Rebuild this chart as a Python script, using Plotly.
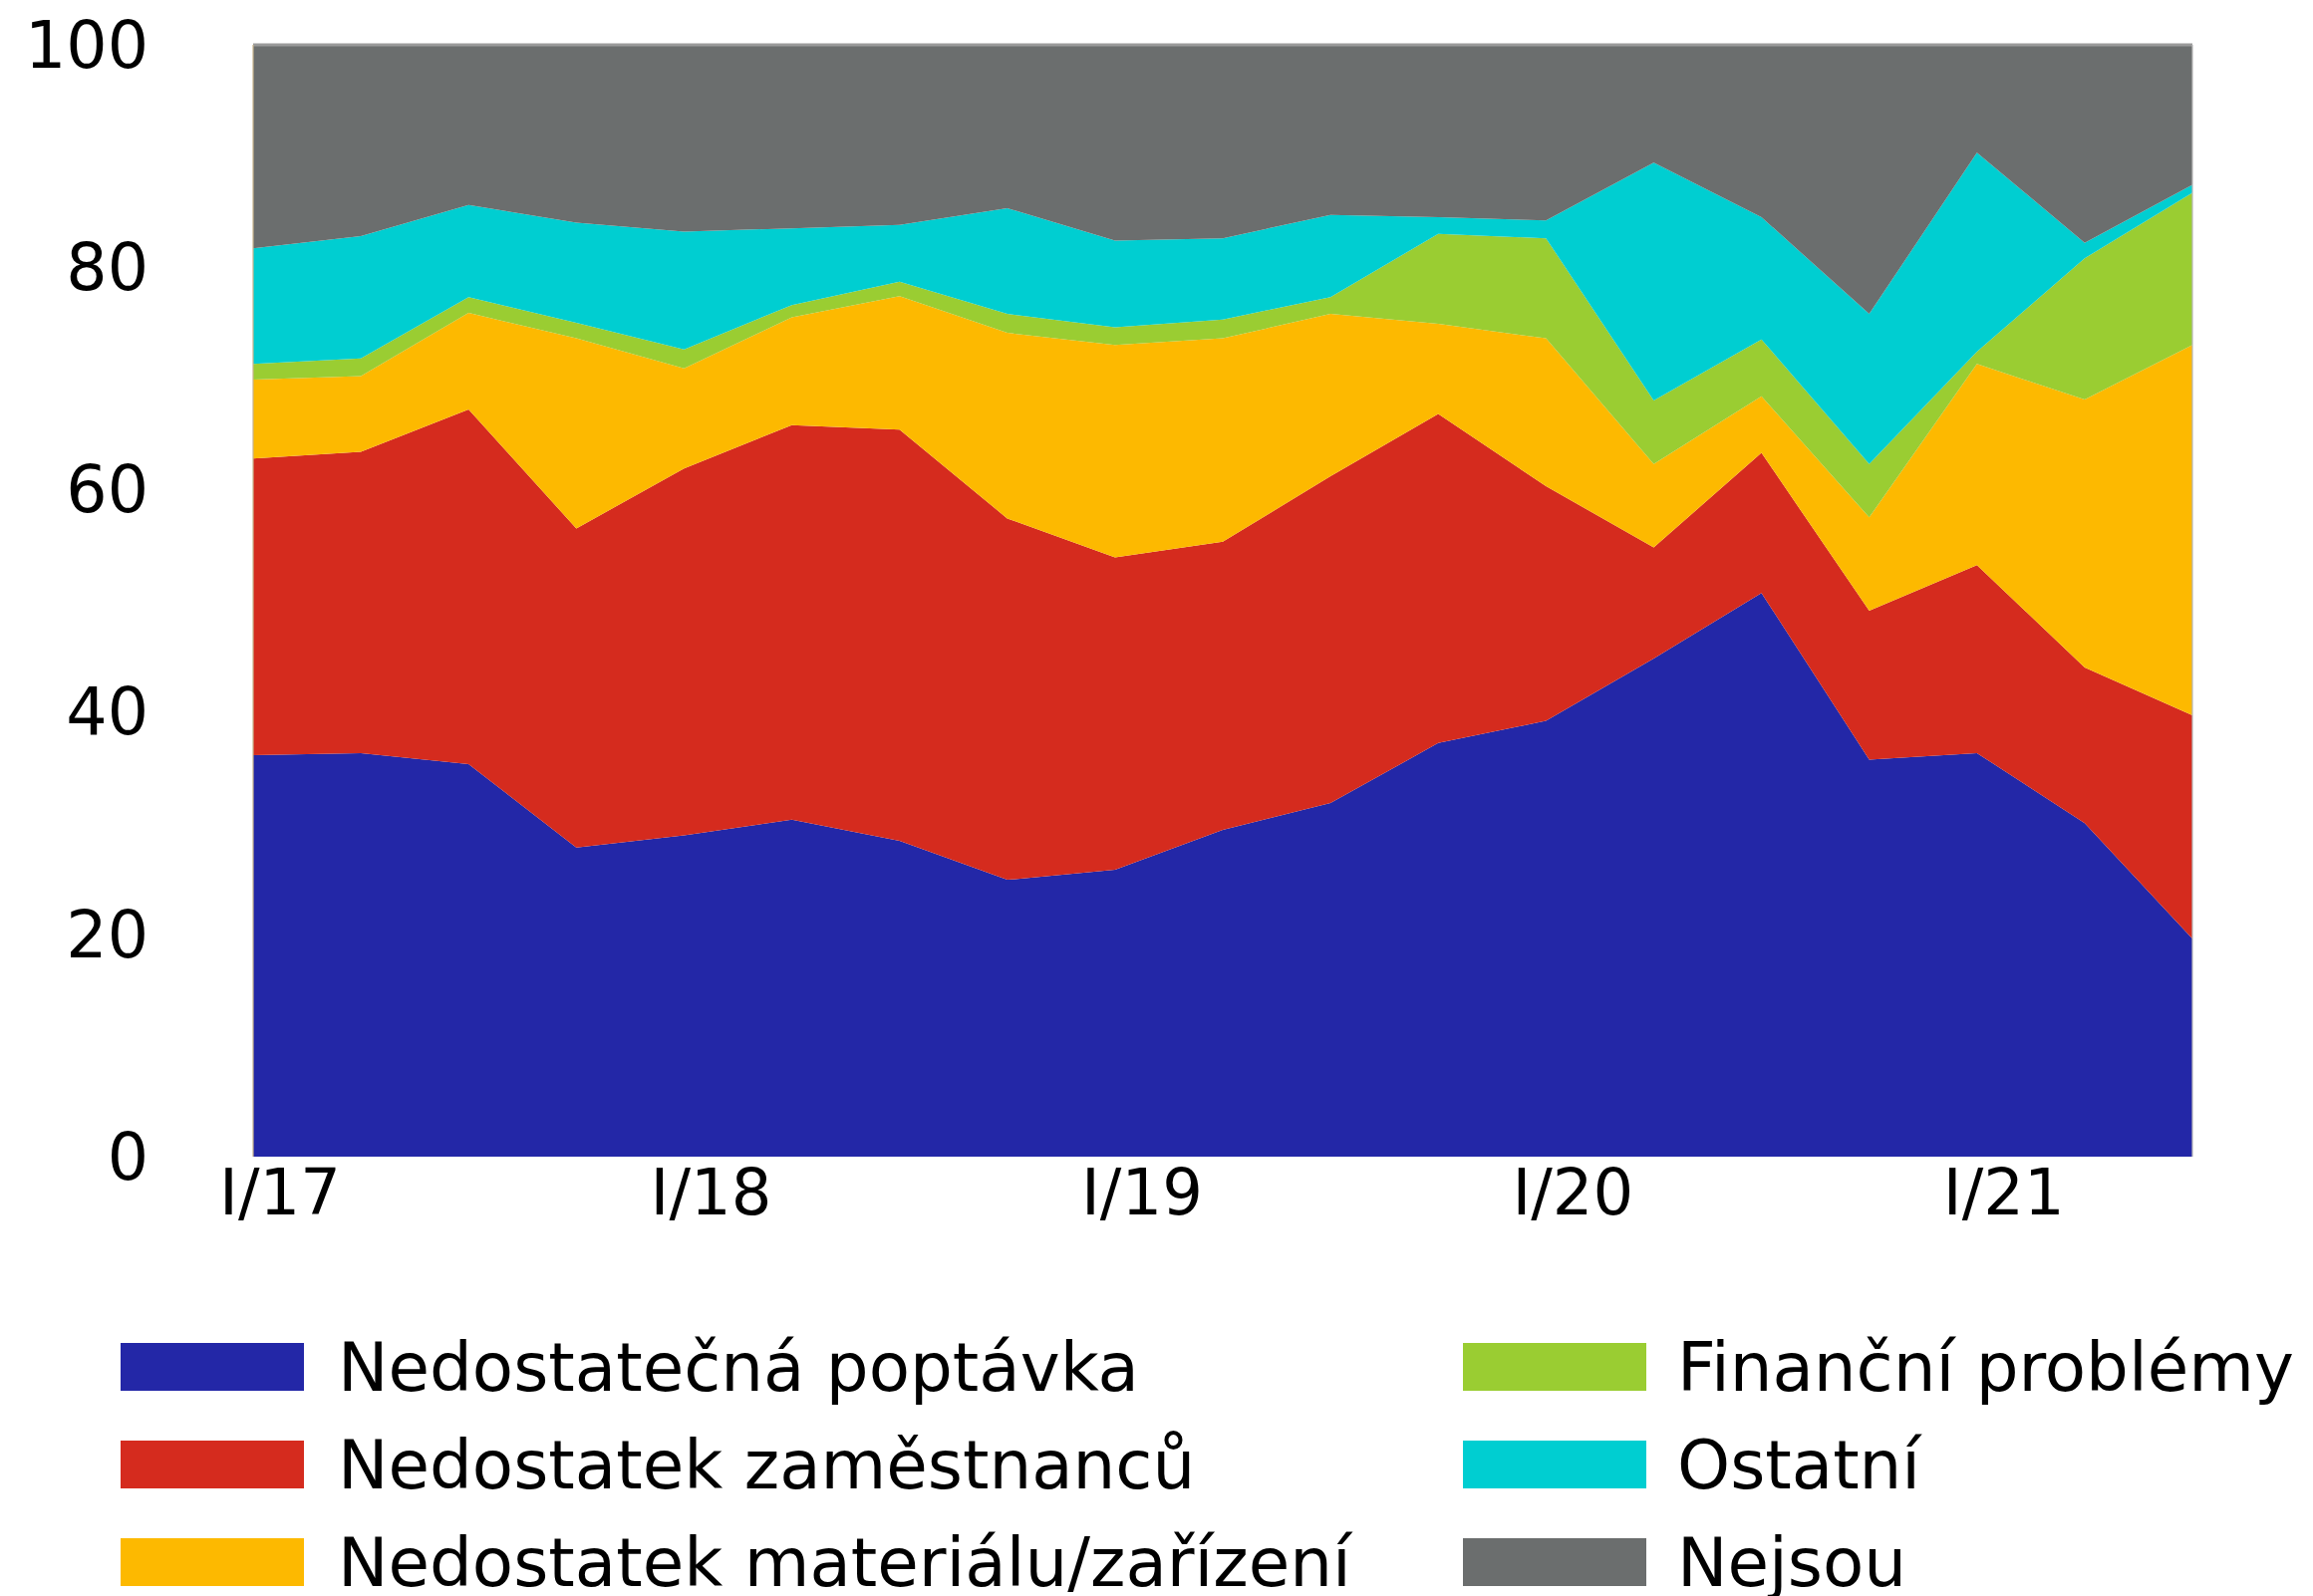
import plotly.graph_objects as go

# ---------------- data ----------------
quarters = ["I/17", "II/17", "III/17", "IV/17",
            "I/18", "II/18", "III/18", "IV/18",
            "I/19", "II/19", "III/19", "IV/19",
            "I/20", "II/20", "III/20", "IV/20",
            "I/21", "II/21", "III/21"]
tick_labels = ["I/17", "I/18", "I/19", "I/20", "I/21"]
y_ticks = [0, 20, 40, 60, 80, 100]

nedostatecna_poptavka = [36.1, 36.3, 35.3, 27.8, 28.9, 30.3, 28.4, 24.9, 25.8, 29.4,
                         31.8, 37.2, 39.2, 44.8, 50.7, 35.7, 36.3, 30.0, 19.6]
nedostatek_zamestnancu = [26.7, 27.1, 31.9, 28.7, 33.0, 35.5, 37.0, 32.5, 28.1, 25.9,
                          29.4, 29.6, 21.1, 10.0, 12.6, 13.4, 16.9, 14.0, 20.1]
nedostatek_materialu = [7.1, 6.8, 8.7, 17.1, 9.0, 9.7, 12.0, 16.7, 19.1, 18.3,
                        14.6, 8.1, 13.3, 7.5, 5.1, 8.4, 18.1, 24.1, 33.3]
financni_problemy = [1.4, 1.6, 1.4, 1.4, 1.7, 1.1, 1.3, 1.7, 1.6, 1.7,
                     1.5, 8.1, 9.0, 5.7, 5.1, 4.8, 1.1, 12.7, 13.7]
ostatni = [10.4, 11.0, 8.3, 9.0, 10.6, 6.9, 5.1, 9.5, 7.8, 7.3,
           7.4, 1.5, 1.6, 21.4, 11.0, 13.5, 17.9, 1.4, 0.7]
nejsou = [18.3, 17.2, 14.4, 16.0, 16.8, 16.5, 16.2, 14.7, 17.6, 17.4,
          15.3, 15.5, 15.8, 10.6, 15.5, 24.2, 9.7, 17.8, 12.6]

series_names = ["Nedostatečná poptávka", "Nedostatek zaměstnanců",
                "Nedostatek materiálu/zařízení", "Finanční problémy",
                "Ostatní", "Nejsou"]
series_values = [nedostatecna_poptavka, nedostatek_zamestnancu, nedostatek_materialu,
                 financni_problemy, ostatni, nejsou]
series_colors = ["#2327a7", "#d52b1e", "#fdb900", "#9acd32", "#00ced1", "#6b6e6e"]

# ---------------- layout geometry (page pixels; page body has an 8px margin) ----------------
OFF = 8
FIG_W, FIG_H = 2321 - OFF, 1602 - OFF
L, R, T, B = 254 - OFF, 2200 - OFF, 45 - OFF, 1161 - OFF
W, H = R - L, B - T
FONT = "DejaVu Sans"


def px(x):
    return (x - OFF - L) / W


def py(y):
    return (B - (y - OFF)) / H


x_idx = list(range(len(quarters)))

fig = go.Figure()
for name, vals, col in zip(series_names, series_values, series_colors):
    fig.add_trace(go.Scatter(
        x=x_idx, y=vals, name=name, mode="none",
        stackgroup="one", fillcolor=col, showlegend=False,
        hoverinfo="x+y+name",
    ))

label_offset = 0.25
fig.update_layout(
    width=FIG_W, height=FIG_H,
    margin=dict(l=L, r=FIG_W - R, t=T, b=FIG_H - B, autoexpand=False),
    paper_bgcolor="white", plot_bgcolor="white",
    font=dict(family=FONT, color="black", size=64),
    showlegend=False,
    xaxis=dict(
        range=[0, len(quarters) - 1],
        tickvals=[quarters.index(t) + label_offset for t in tick_labels],
        ticktext=tick_labels,
        showgrid=False, zeroline=False, showline=False, ticks="",
        tickfont=dict(size=64, family=FONT),
        ticklabelstandoff=-7,
        ticklabeloverflow="allow",
    ),
    yaxis=dict(
        range=[0, 100],
        tickvals=y_ticks,
        showgrid=False, zeroline=False, showline=False, ticks="",
        tickfont=dict(size=65, family=FONT),
        ticklabelstandoff=104,
        ticklabeloverflow="allow",
    ),
)

# thin frame lines (top and right) like the reference
fig.add_shape(type="line", xref="paper", yref="paper", x0=0, x1=1, y0=1, y1=1,
              line=dict(color="#9a9a9a", width=3))
fig.add_shape(type="line", xref="paper", yref="paper", x0=1, x1=1, y0=0, y1=1,
              line=dict(color="#b8b8b8", width=2), opacity=0.6)
fig.add_shape(type="line", xref="paper", yref="paper", x0=0, x1=0, y0=0, y1=1,
              line=dict(color="#c8b48c", width=2), opacity=0.6)

# manual legend with large swatches (page pixel positions)
col_x = [121, 1468]
sw_w = 184
text_x = [337, 1681]
row_y = [1348, 1446, 1544]
sw_h = 48
for i, (name, col) in enumerate(zip(series_names, series_colors)):
    c, r = divmod(i, 3)
    x0 = col_x[c]
    y0 = row_y[r]
    fig.add_shape(type="rect", xref="paper", yref="paper",
                  x0=px(x0), x1=px(x0 + sw_w), y0=py(y0 + sw_h), y1=py(y0),
                  fillcolor=col, line=dict(width=0))
    fig.add_annotation(xref="paper", yref="paper", x=px(text_x[c]), y=py(y0 + sw_h / 2),
                       text=name, showarrow=False, xanchor="left", yanchor="middle",
                       font=dict(family=FONT, size=67.5, color="black"))

fig.write_html("out.html")
